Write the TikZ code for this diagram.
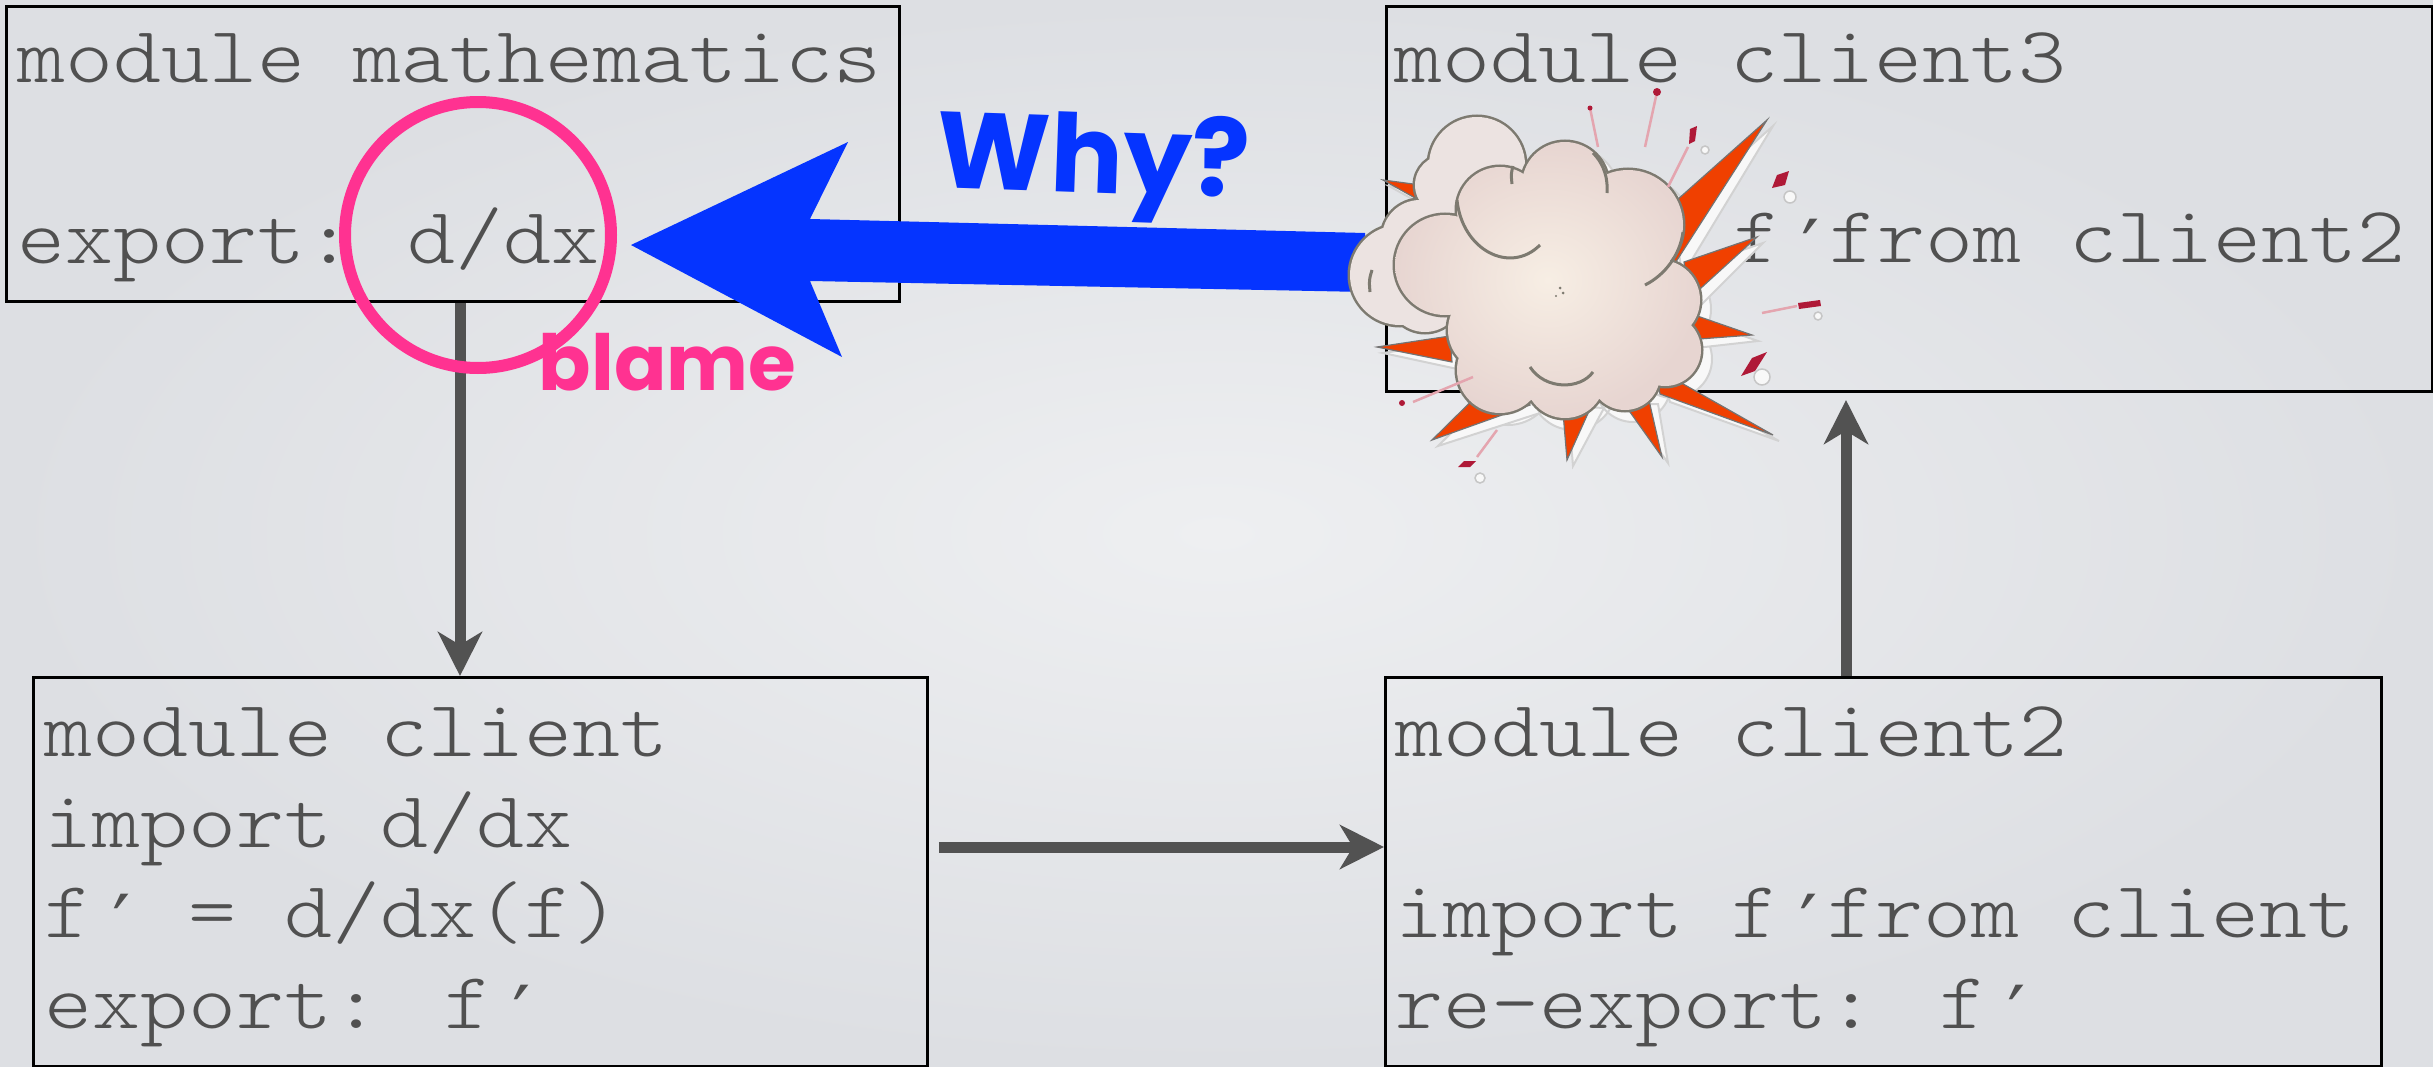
\documentclass[tikz,border=0pt]{standalone}
\usepackage{fontspec}
\newfontfamily\codefont{Latin Modern Mono Light}[FakeStretch=1.143]
\newfontfamily\primefont{DejaVu Sans Mono}
\newfontfamily\callout{Poppins}
\usetikzlibrary{arrows.meta}

\definecolor{bgin}{RGB}{238,239,241}
\definecolor{bgout}{RGB}{221,223,227}
\definecolor{ink}{RGB}{80,80,80}
\definecolor{flow}{RGB}{82,82,82}
\definecolor{whyblue}{RGB}{5,52,255}
\definecolor{blamepink}{RGB}{255,50,145}
\definecolor{spike}{RGB}{240,64,0}
\definecolor{puffin}{RGB}{247,238,228}
\definecolor{puffout}{RGB}{231,213,209}
\definecolor{puffback}{RGB}{236,227,225}
\definecolor{puffline}{RGB}{125,122,112}
\definecolor{debris}{RGB}{175,25,55}
\definecolor{streak}{RGB}{228,165,175}
\definecolor{haze}{RGB}{248,248,248}

% prime sign, one monospace cell wide
\newcommand\pr{\makebox[4.8mm][l]{\hspace{0.5mm}\raisebox{-1.5mm}{\primefont\char"2032}}}

% cloud puffs of the explosion: x/y/radius
\def\backpuffs{1400/275/50, 1425/295/37, 1477/165/48, 1445/185/30, 1420/238/38, 1510/190/30}
\def\frontpuffs{1445/265/50, 1500/210/43, 1565/185/43, 1628/225/55, 1660/300/40, 1665/350/36, 1625/375/35, 1565/378/40, 1500/370/43, 1490/330/42, 1570/290/100}
% spikes: tip x/y, base x/y, base x/y
\def\spikes{1767/120/1668/208/1672/268, 1757/237/1684/262/1690/298, 1752/335/1680/310/1686/340, 1773/435/1655/368/1660/394, 1662/457/1620/398/1648/396, 1567/460/1562/400/1594/400, 1432/440/1508/365/1530/405, 1377/347/1450/336/1452/362, 1383/180/1428/186/1440/212}

\begin{document}
\begin{tikzpicture}[x=0.1mm,y=-0.1mm,
  modbox/.style={draw=black, line width=0.3mm, anchor=north west, inner sep=0pt},
  code/.style={anchor=base west, inner sep=0pt, text=ink,
    font=\codefont\fontsize{22.76}{27}\selectfont},
  conn/.style={draw=flow, line width=1.1mm,
    -{Stealth[length=4.4mm, width=4.4mm, inset=1.3mm]}},
  shout/.style={anchor=base west, inner sep=0pt, font=\callout\bfseries},
  puffedge/.style={draw=puffline, line width=0.5mm},
  streakline/.style={draw=streak, line width=0.25mm},
  chip/.style={fill=debris},
  blob/.style={fill=haze, draw=gray!45, line width=0.15mm}]

\useasboundingbox (0,0) rectangle (2433,1067);
\shade[inner color=bgin, outer color=bgout] (0,0) rectangle (2433,1067);

% module boxes
\node[modbox, minimum width=89.3mm, minimum height=29.5mm] (mathbox) at (5,5) {};
\node[modbox, minimum width=104.6mm, minimum height=38.5mm] (client3box) at (1385,5) {};
\node[modbox, minimum width=89.4mm, minimum height=38.9mm] (clientbox) at (32,676) {};
\node[modbox, minimum width=99.6mm, minimum height=38.9mm] (client2box) at (1384,676) {};

% module texts
\node[code] (m1) at (17,82) {module mathematics};
\node[code] (m2) at (17,263) {export:};
\node[code] (m3) at (407,263) {d/dx};

\node[code] (c3a) at (1394,82) {module client3};
\node[code] (c3b) at (1733,262) {f\pr from client2};

\node[code] (c1) at (44,756) {module client};
\node[code] (c2) at (44,847) {import d/dx};
\node[code] (c3) at (44,937) {f\pr{} = d/dx(f)};
\node[code] (c4) at (44,1028) {export: f\pr};

\node[code] (d1) at (1395,756) {module client2};
\node[code] (d2) at (1395,937) {import f\pr from client};
\node[code] (d3) at (1395,1028) {re-export: f\pr};

% dependency arrows
\coordinate (dcol) at (460,0);
\coordinate (rrow) at (0,847);
\coordinate (ucol) at (1846,0);
\draw[conn] (mathbox.south -| dcol) -- (clientbox.north -| dcol);
\draw[conn, shorten <=1mm] (clientbox.east |- rrow) -- (client2box.west |- rrow);
\draw[conn, shorten >=0.7mm] (client2box.north -| ucol) -- (client3box.south -| ucol);

% blame marker
\node[circle, draw=blamepink, line width=1.2mm, minimum size=26.6mm, inner sep=0pt] (ring) at (478,235) {};
\node[shout, text=blamepink, font=\callout\bfseries\fontsize{22}{26}\selectfont] (blame) at (538,390) {blame};

% big blue arrow
\fill[whyblue] (631,245) -- (848,142) -- (810,219) -- (1365,233) -- (1365,292)
  -- (810,281) -- (842,357) -- cycle;
\node[shout, text=whyblue, font=\callout\bfseries\fontsize{30.8}{34}\selectfont, rotate=-2] (why) at (935,187) {Why?};

% explosion: halo
\path[fill=haze, draw=gray!35, line width=0.2mm]
  foreach \x/\y/\r in \frontpuffs {(\x+8,\y+9) circle[radius=\r+3]};
\foreach \tx/\ty/\ax/\ay/\bx/\by in \spikes
  \path[fill=haze, draw=gray!35, line width=0.2mm] (\tx+6,\ty+6) -- (\ax+6,\ay+6) -- (\bx+10,\by+8) -- cycle;
% explosion: spikes
\foreach \tx/\ty/\ax/\ay/\bx/\by in \spikes
  \path[fill=spike, draw=black!55, line width=0.12mm] (\tx,\ty) -- (\ax,\ay) -- (\bx,\by) -- cycle;
% explosion: back cloud
\path[puffedge] foreach \x/\y/\r in \backpuffs {(\x,\y) circle[radius=\r]};
\path[fill=puffback] foreach \x/\y/\r in \backpuffs {(\x,\y) circle[radius=\r]};
% explosion: front cloud
\path[puffedge] foreach \x/\y/\r in \frontpuffs {(\x,\y) circle[radius=\r]};
\shade[inner color=puffin, outer color=puffout] foreach \x/\y/\r in \frontpuffs {(\x,\y) circle[radius=\r]};
% explosion: inner folds
\draw[puffline, line width=0.3mm] (1457,200) .. controls (1462,250) and (1510,275) .. (1540,245);
\draw[puffline, line width=0.3mm] (1513,166) .. controls (1511,174) .. (1512,184);
\draw[puffline, line width=0.3mm] (1593,153) .. controls (1605,165) and (1608,180) .. (1607,193);
\draw[puffline, line width=0.3mm] (1683,232) .. controls (1680,255) and (1665,275) .. (1645,285);
\draw[puffline, line width=0.3mm] (1530,367) .. controls (1545,390) and (1580,390) .. (1593,372);
\draw[puffline, line width=0.3mm] (1372,270) .. controls (1369,280) .. (1370,292);
\fill[puffline] (1560,288) circle[radius=1.5] (1563,293) circle[radius=1.5] (1556,296) circle[radius=1.2];
% explosion: flying debris
\draw[streakline] (1590,108) -- (1598,147);
\fill[debris] (1590,108) circle[radius=2.5];
\draw[streakline] (1657,92) -- (1645,147);
\fill[debris] (1657,92) circle[radius=4];
\draw[streakline] (1688,147) -- (1668,187);
\fill[chip] (1690,129) -- (1697,126) -- (1695,141) -- (1689,144) -- cycle;
\path[blob] (1705,150) circle[radius=4];
\fill[chip] (1772,188) -- (1777,175) -- (1789,171) -- (1785,185) -- cycle;
\path[blob] (1790,197) circle[radius=6];
\draw[streakline] (1762,313) -- (1797,306);
\fill[chip] (1798,303) -- (1820,300) -- (1821,306) -- (1799,309) -- cycle;
\path[blob] (1818,316) circle[radius=4];
\fill[chip] (1741,376) -- (1752,358) -- (1767,352) -- (1755,371) -- cycle;
\path[blob] (1762,377) circle[radius=8];
\fill[debris] (1402,403) circle[radius=3];
\draw[streakline] (1413,402) -- (1473,377);
\fill[chip] (1458,467) -- (1464,461) -- (1476,461) -- (1470,467) -- cycle;
\draw[streakline] (1477,457) -- (1497,430);
\path[blob] (1480,478) circle[radius=5];
\end{tikzpicture}
\end{document}
